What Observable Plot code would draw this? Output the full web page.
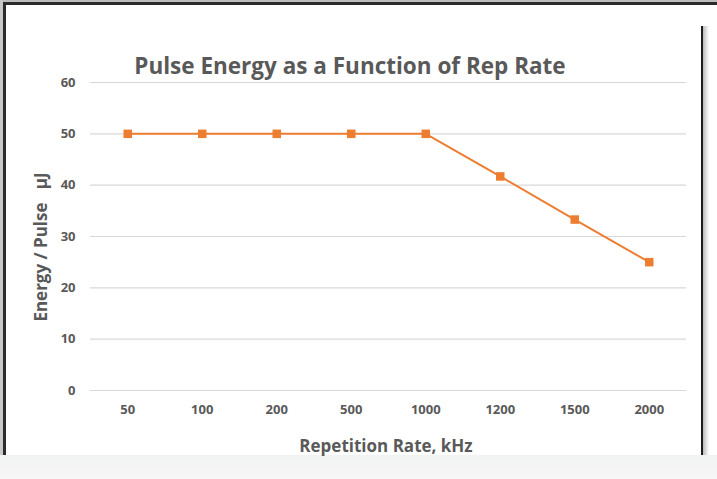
<!DOCTYPE html>
<html>
<head>
<meta charset="utf-8">
<script src="https://cdn.jsdelivr.net/npm/d3@7"></script>
<script src="https://cdn.jsdelivr.net/npm/@observablehq/plot@0.6"></script>
<style>
  html, body { margin: 0; padding: 0; background: #ffffff; }
  #wrap { position: relative; width: 717px; height: 479px; overflow: hidden; background: #fff; font-family: "Open Sans", sans-serif; }
  #topbar { position: absolute; left: 0; top: 0; width: 717px; height: 2px; background: #bdbdbd; }
  #topline { position: absolute; left: 3px; top: 2px; width: 714px; height: 3px; background: #2b2b2b; }
  #leftstrip { position: absolute; left: 0; top: 0; width: 3px; height: 455px; background: #c8c8c8; }
  #leftline { position: absolute; left: 3px; top: 2px; width: 3px; height: 453px; background: #2b2b2b; }
  #rightline { position: absolute; left: 701px; top: 26px; width: 2px; height: 429px; background: #1e1e1e; }
  #rightshade { position: absolute; left: 703px; top: 26px; width: 6px; height: 429px; background: linear-gradient(to right, #bbbbbb, #ffffff); }
  #bottom { position: absolute; left: 0; top: 455px; width: 717px; height: 24px; background: linear-gradient(to bottom, #f1f2f2, #f7f7f7); }
  #title { position: absolute; left: 350px; top: 65px; transform: translate(-50%, -50%); white-space: pre; font-size: 22.5px; font-weight: 700; color: #595959; }
  #ytitle { position: absolute; left: 40px; top: 247px; transform: translate(-50%, -50%) rotate(-90deg); white-space: pre; font-size: 17px; font-weight: 700; color: #595959; }
  #xtitle { position: absolute; left: 386px; top: 445px; transform: translate(-50%, -50%); font-size: 17px; font-weight: 700; color: #595959; white-space: pre; }
  #chart { position: absolute; left: 0; top: 0; }
</style>
</head>
<body>
<div id="wrap">
  <div id="chart"></div>
  <div id="topbar"></div>
  <div id="topline"></div>
  <div id="leftstrip"></div>
  <div id="leftline"></div>
  <div id="rightshade"></div>
  <div id="rightline"></div>
  <div id="bottom"></div>
  <div id="title">Pulse Energy as a Function of Rep Rate</div>
  <div id="ytitle">Energy / Pulse   μJ</div>
  <div id="xtitle">Repetition Rate, kHz</div>
</div>
<script>
const repRates = ["50", "100", "200", "500", "1000", "1200", "1500", "2000"];
const energy = [50, 50, 50, 50, 50, 41.7, 33.3, 25];
const yTicks = [0, 10, 20, 30, 40, 50, 60];

const data = repRates.map((r, i) => ({rate: r, energy: energy[i]}));

const chart = Plot.plot({
  width: 717,
  height: 479,
  marginLeft: 90,
  marginRight: 31,
  marginTop: 82,
  marginBottom: 89,
  style: { fontFamily: "Open Sans, sans-serif", background: "transparent", color: "#595959", overflow: "visible" },
  x: { type: "point", domain: repRates, padding: 0.5, round: false, label: null },
  y: { domain: [0, 60], label: null },
  marks: [
    Plot.gridY(yTicks, { stroke: "#d9d9d9", strokeOpacity: 1, strokeWidth: 1.2 }),
    Plot.axisY(yTicks, { tickSize: 0, tickPadding: 15, fontSize: 13, fontWeight: 700, fill: "#595959", label: null }),
    Plot.axisX({ tickSize: 0, tickPadding: 14, fontSize: 13, fontWeight: 700, fill: "#595959", label: null }),
    Plot.line(data, { x: "rate", y: "energy", stroke: "#ED7D31", strokeWidth: 2 }),
    Plot.dot(data, { x: "rate", y: "energy", symbol: "square", r: 4.8, fill: "#ED7D31", stroke: "none" })
  ]
});
document.getElementById("chart").appendChild(chart);
</script>
</body>
</html>
